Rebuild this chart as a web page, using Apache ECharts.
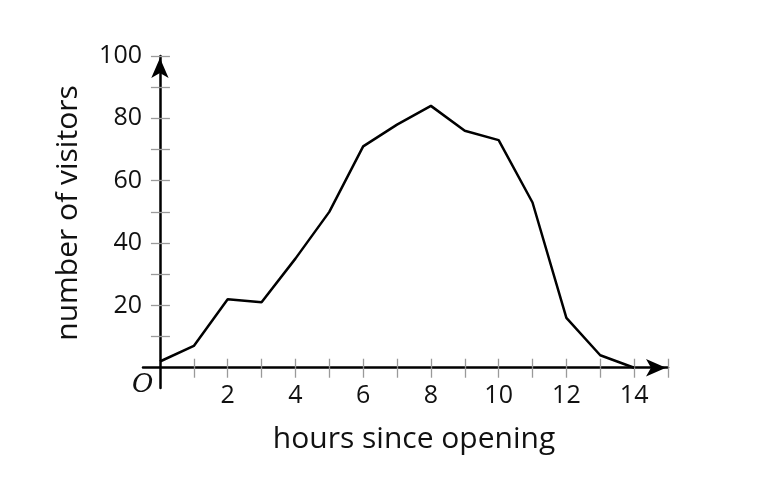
<!DOCTYPE html>
<html>
<head>
<meta charset="utf-8">
<script src="https://cdn.jsdelivr.net/npm/echarts@6/dist/echarts.min.js"></script>
<style>
html,body{margin:0;padding:0;background:#fff;}
#chart{width:772px;height:496px;}
</style>
</head>
<body>
<div id="chart"></div>
<script>
// Data
const hours = [0,1,2,3,4,5,6,7,8,9,10,11,12,13,14];
const visitors = [2,7,22,21,35,50,71,78,84,76,73,53,16,4,0];
const xTickValues = [1,2,3,4,5,6,7,8,9,10,11,12,13,14,15];
const xLabelValues = [2,4,6,8,10,12,14];
const yTickValues = [10,20,30,40,50,60,70,80,90,100];
const yLabelValues = [20,40,60,80,100];

const font = '"Open Sans", "Noto Sans", sans-serif';
const chart = echarts.init(document.getElementById('chart'), null, {renderer:'canvas'});
const tickStyle = {color:'#9a9a9a', width:1.3};

chart.setOption({
  backgroundColor:'#fff',
  animation:false,
  grid:{left:143, top:56, width:525, height:332, containLabel:false},
  xAxis:[{
    type:'value', min:-0.5, max:15, position:'bottom',
    axisLine:{show:true, onZero:true, lineStyle:{color:'#000', width:2.5}, symbol:['none','arrow'], symbolSize:[13,20], symbolOffset:[0,-2]},
    axisTick:{show:true, inside:false, length:10, customValues:xTickValues, lineStyle:tickStyle},
    axisLabel:{show:true, customValues:xLabelValues, margin:-5, fontSize:25, color:'#111', fontFamily:font},
    splitLine:{show:false},
    name:'hours since opening', nameLocation:'middle', nameGap:36,
    nameTextStyle:{fontSize:30, color:'#111', fontFamily:font, padding:[0,0,0,17]}
  },{
    type:'value', min:-0.5, max:15, position:'top',
    axisLine:{show:true, onZero:true, lineStyle:{color:'rgba(0,0,0,0)', width:0}},
    axisTick:{show:true, inside:false, length:9, customValues:xTickValues, lineStyle:tickStyle},
    axisLabel:{show:false},
    splitLine:{show:false}
  }],
  yAxis:[{
    type:'value', min:-6.5, max:100, position:'left',
    axisLine:{show:true, onZero:true, lineStyle:{color:'#000', width:2.5}, symbol:['none','arrow'], symbolSize:[13,20], symbolOffset:[0,-2]},
    axisTick:{show:true, inside:false, length:9, customValues:yTickValues, lineStyle:tickStyle},
    axisLabel:{show:true, customValues:yLabelValues, margin:1, fontSize:25, color:'#111', fontFamily:font},
    splitLine:{show:false},
    name:'number of visitors', nameLocation:'middle', nameGap:60,
    nameTextStyle:{fontSize:30, color:'#111', fontFamily:font, padding:[0,0,0,18]}
  },{
    type:'value', min:-6.5, max:100, position:'right',
    axisLine:{show:true, onZero:true, lineStyle:{color:'rgba(0,0,0,0)', width:0}},
    axisTick:{show:true, inside:false, length:10, customValues:yTickValues, lineStyle:tickStyle},
    axisLabel:{show:false},
    splitLine:{show:false}
  }],
  graphic:[{
    type:'text', left:132, top:372,
    style:{text:'O', fontSize:26, fontStyle:'italic', fontFamily:'"DejaVu Serif", serif', fill:'#111'}
  }],
  series:[{
    type:'line',
    data:hours.map((h,i)=>[h, visitors[i]]),
    symbol:'none',
    lineStyle:{color:'#000', width:2.5},
    z:5
  }]
});
</script>
</body>
</html>
